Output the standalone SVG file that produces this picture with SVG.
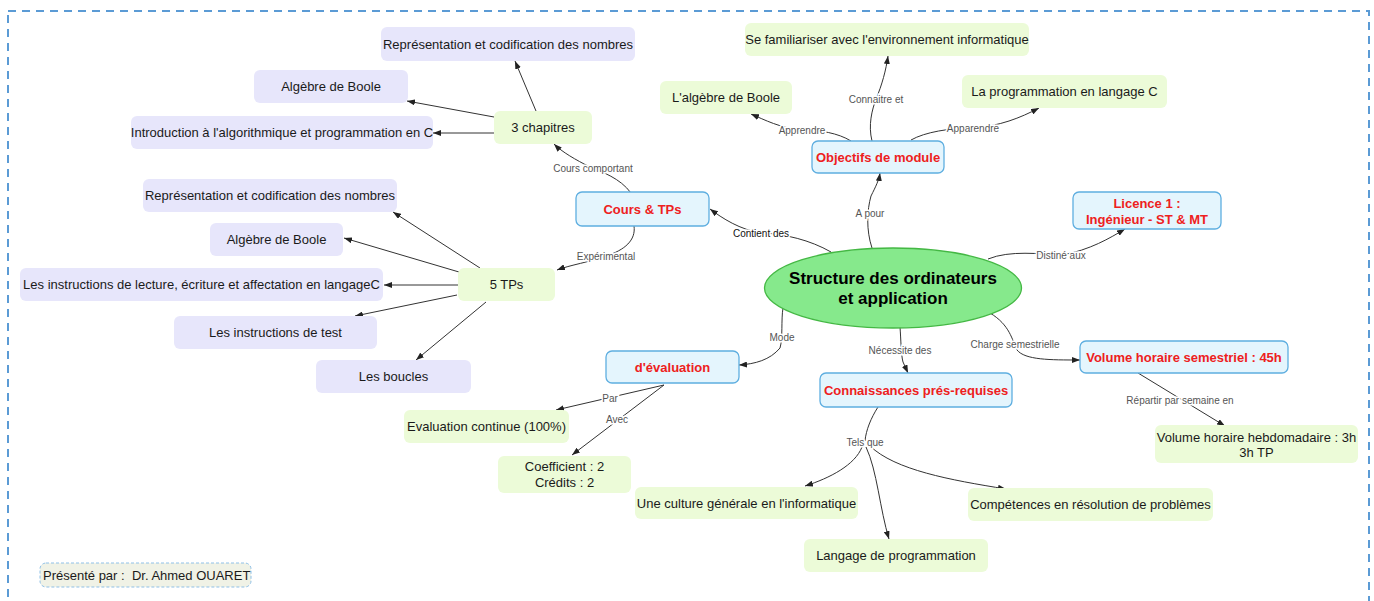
<svg xmlns="http://www.w3.org/2000/svg" width="1374" height="601" viewBox="0 0 1374 601">
<defs>
<marker id="ah" markerUnits="userSpaceOnUse" markerWidth="8" markerHeight="6" refX="8" refY="3" orient="auto"><path d="M0,0 L8,3 L0,6 z" fill="#222"/></marker>
<style>
.t{font-family:"Liberation Sans",Arial,sans-serif;font-size:13px;fill:#1a1a1a;text-anchor:middle}
.r{font-family:"Liberation Sans",Arial,sans-serif;font-size:13px;font-weight:bold;fill:#ee2020;text-anchor:middle}
.lav{fill:#e7e6fb}
.grn{fill:#ecfbd8}
.blu{fill:#e4f5fd;stroke:#5eaee0;stroke-width:1.3}
.c{fill:none;stroke:#333;stroke-width:1;marker-end:url(#ah)}
.l{font-family:"Liberation Sans",Arial,sans-serif;font-size:10px;fill:#555;text-anchor:middle;stroke:#fff;stroke-width:3;paint-order:stroke}
</style>
</defs>
<rect width="1374" height="601" fill="#fff"/>
<rect x="8" y="11" width="1361" height="640" fill="none" stroke="#5b9bd5" stroke-width="2" stroke-dasharray="8 6"/>

<g id="connectors">
<path class="c" d="M536 111 L515 61"/>
<path class="c" d="M494 117 L407 101"/>
<path class="c" d="M494 133 L433 133"/>
<path class="c" d="M480 268 L393 212"/>
<path class="c" d="M459 272 L344 238"/>
<path class="c" d="M458 285 L384 285"/>
<path class="c" d="M457 295 L355 316"/>
<path class="c" d="M486 302 L416 360"/>
<path class="c" d="M631 193 C620 178 602 172 590 167 C576 160 562 152 554 144"/>
<path class="c" d="M634 226 C636 240 625 250 606 256 C590 262 570 265 557 270"/>
<path class="c" d="M831 252 C810 240 785 234 762 233 C740 230 722 218 710 209"/>
<path class="c" d="M872 248 C866 230 867 210 871 196 C876 186 879 180 880 173"/>
<path class="c" d="M851 141 C838 133 820 130 802 130 C780 128 765 120 751 114"/>
<path class="c" d="M872 141 C868 125 872 110 876 99 C882 85 886 70 888 56"/>
<path class="c" d="M911 140 C925 132 950 128 973 128 C1000 126 1020 118 1039 108"/>
<path class="c" d="M988 259 C1010 250 1040 254 1062 255 C1090 250 1110 238 1125 229"/>
<path class="c" d="M783 308 C781 320 783 338 780 348 C770 360 755 364 739 365"/>
<path class="c" d="M900 327 C901 340 901 355 903 362 L908 373"/>
<path class="c" d="M990 313 C1010 325 1012 340 1017 350 C1025 360 1050 360 1080 360"/>
<path class="c" d="M1138 373 L1225 426"/>
<path class="c" d="M664 385 L556 410"/>
<path class="c" d="M664 385 L572 455"/>
<path fill="none" stroke="#333" d="M878 407 C871 418 866 430 865 441"/>
<path class="c" d="M862 447 C855 465 830 478 805 486"/>
<path class="c" d="M866 447 C877 470 880 510 889 539"/>
<path class="c" d="M870 446 C895 470 950 480 1006 489"/>
<text class="l" x="593" y="171.5">Cours comportant</text>
<text class="l" x="606" y="259.5">Expérimental</text>
<text class="l" x="761" y="236.5" style="fill:#111">Contient des</text>
<text class="l" x="870" y="216.5">A pour</text>
<text class="l" x="802" y="133.5">Apprendre</text>
<text class="l" x="876" y="102.5">Connaitre et</text>
<text class="l" x="973" y="131.5">Apparendre</text>
<text class="l" x="1061" y="258.5">Distiné aux</text>
<text class="l" x="782" y="340.5">Mode</text>
<text class="l" x="900" y="353.5">Nécessite des</text>
<text class="l" x="1015" y="347.5">Charge semestrielle</text>
<text class="l" x="1180" y="403.5">Répartir par semaine en</text>
<text class="l" x="610" y="401.5">Par</text>
<text class="l" x="617" y="422.5">Avec</text>
<text class="l" x="865" y="445.5">Tels que</text>
</g>

<g id="center"><ellipse cx="893" cy="288" rx="128.5" ry="40" fill="#86e98c" stroke="#44b844" stroke-width="1.3"/>
<text class="t" x="893" y="284" style="font-size:17px;font-weight:bold;fill:#000">Structure des ordinateurs</text>
<text class="t" x="893" y="304" style="font-size:17px;font-weight:bold;fill:#000">et application</text></g>

<g id="rep1"><rect class="lav" x="381" y="27" width="254" height="34" rx="6"/><text class="t" x="508" y="48.5">Représentation et codification des nombres</text></g>
<g id="alg1"><rect class="lav" x="254" y="70" width="154" height="33" rx="6"/><text class="t" x="331" y="91">Algèbre de Boole</text></g>
<g id="intro"><rect class="lav" x="131" y="116" width="302" height="33" rx="6"/><text class="t" x="282" y="137">Introduction à l'algorithmique et programmation en C</text></g>
<g id="rep2"><rect class="lav" x="143" y="179" width="254" height="33" rx="6"/><text class="t" x="270" y="200">Représentation et codification des nombres</text></g>
<g id="alg2"><rect class="lav" x="210" y="223" width="133" height="33" rx="6"/><text class="t" x="276.5" y="244">Algèbre de Boole</text></g>
<g id="lecture"><rect class="lav" x="20" y="268" width="363" height="33" rx="6"/><text class="t" x="201.5" y="289">Les instructions de lecture, écriture et affectation en langageC</text></g>
<g id="test"><rect class="lav" x="174" y="316" width="203" height="33" rx="6"/><text class="t" x="275.5" y="337">Les instructions de test</text></g>
<g id="boucles"><rect class="lav" x="316" y="360" width="155" height="33" rx="6"/><text class="t" x="393.5" y="381">Les boucles</text></g>

<g id="chapitres"><rect class="grn" x="494" y="111" width="98" height="33" rx="6"/><text class="t" x="543" y="132">3 chapitres</text></g>
<g id="tps"><rect class="grn" x="458" y="268" width="97" height="33" rx="6"/><text class="t" x="506.5" y="289">5 TPs</text></g>
<g id="familiariser"><rect class="grn" x="745" y="23" width="284" height="33" rx="6"/><text class="t" x="887" y="44">Se familiariser avec l'environnement informatique</text></g>
<g id="boole3"><rect class="grn" x="660" y="81" width="132" height="33" rx="6"/><text class="t" x="726" y="102">L'algèbre de Boole</text></g>
<g id="progc"><rect class="grn" x="962" y="75" width="205" height="33" rx="6"/><text class="t" x="1064.5" y="96">La programmation en langage C</text></g>
<g id="evalcont"><rect class="grn" x="404" y="410" width="165" height="33" rx="6"/><text class="t" x="486.5" y="431">Evaluation continue (100%)</text></g>
<g id="coef"><rect class="grn" x="498" y="456" width="133" height="37" rx="6"/><text class="t" x="564.5" y="471">Coefficient : 2</text><text class="t" x="564.5" y="487">Crédits : 2</text></g>
<g id="culture"><rect class="grn" x="635" y="487" width="223" height="32" rx="6"/><text class="t" x="746.5" y="507.5">Une culture générale en l'informatique</text></g>
<g id="competences"><rect class="grn" x="968" y="488" width="245" height="33" rx="6"/><text class="t" x="1090.5" y="509">Compétences en résolution de problèmes</text></g>
<g id="langage"><rect class="grn" x="804" y="539" width="184" height="33" rx="6"/><text class="t" x="896" y="560">Langage de programmation</text></g>
<g id="hebdo"><rect class="grn" x="1155" y="425" width="203" height="38" rx="6"/><text class="t" x="1256.5" y="441.5">Volume horaire hebdomadaire : 3h</text><text class="t" x="1256.5" y="456.5">3h TP</text></g>

<g id="cours"><rect class="blu" x="576" y="192" width="133" height="34" rx="6"/><text class="r" x="642.5" y="213.5">Cours &amp; TPs</text></g>
<g id="objectifs"><rect class="blu" x="812" y="141" width="132" height="32" rx="6"/><text class="r" x="878" y="161.5">Objectifs de module</text></g>
<g id="licence"><rect class="blu" x="1073" y="192" width="148" height="37" rx="6"/><text class="r" x="1147" y="207.5">Licence 1 :</text><text class="r" x="1147" y="223.5">Ingénieur - ST &amp; MT</text></g>
<g id="evaluation"><rect class="blu" x="606" y="351" width="133" height="32" rx="6"/><text class="r" x="672.5" y="371.5">d'évaluation</text></g>
<g id="connaissances"><rect class="blu" x="820" y="373" width="192" height="34" rx="6"/><text class="r" x="916" y="394.5">Connaissances prés-requises</text></g>
<g id="semestriel"><rect class="blu" x="1080" y="341" width="208" height="32" rx="6"/><text class="r" x="1184" y="361.5">Volume horaire semestriel : 45h</text></g>

<g id="presente"><rect x="40" y="563" width="211" height="24" rx="6" fill="#f0f2e6" stroke="#8fc0e6" stroke-dasharray="3 2"/><text class="t" x="43" y="579.5" style="text-anchor:start;white-space:pre">Présenté par :  Dr. Ahmed OUARET</text></g>
</svg>
